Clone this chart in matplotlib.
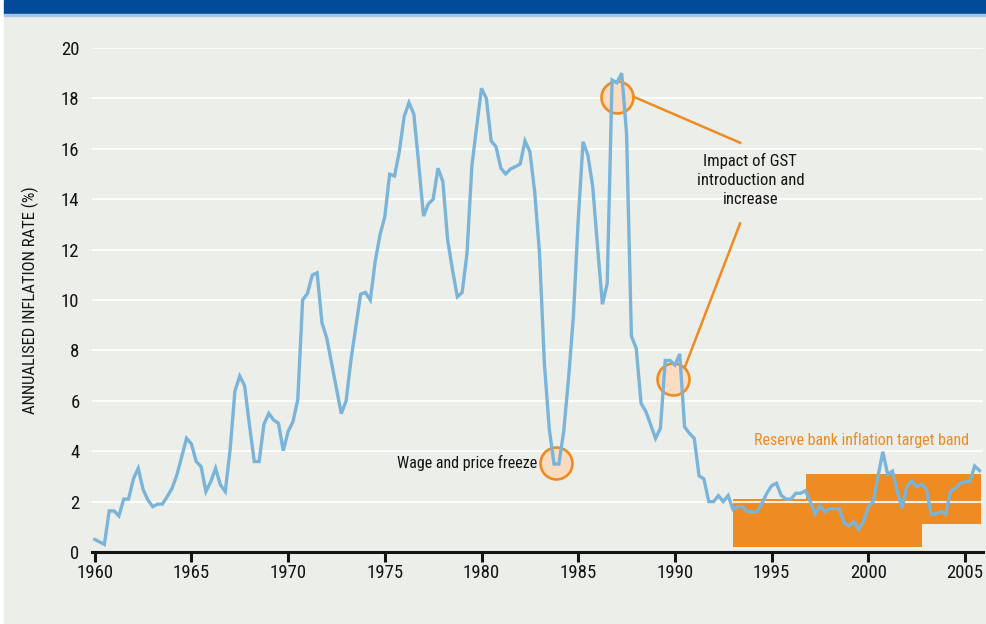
import matplotlib.pyplot as plt
from matplotlib.patches import Rectangle
import numpy as np

plt.rcParams['font.family'] = ['Roboto Condensed', 'DejaVu Sans Condensed',
                               'Roboto', 'DejaVu Sans']
plt.rcParams['font.stretch'] = 'condensed'

# Annualised CPI inflation (%), quarterly, 1960 Q1 - 2005 Q4
quarters = np.arange(1960, 2006, 0.25)
inflation = [
    0.50, 0.40, 0.30, 1.63,    # 1960
    1.63, 1.43, 2.10, 2.10,    # 1961
    2.90, 3.32, 2.49, 2.06,    # 1962
    1.80, 1.90, 1.90, 2.20,    # 1963
    2.53, 3.06, 3.78, 4.51,    # 1964
    4.29, 3.59, 3.39, 2.40,    # 1965
    2.79, 3.32, 2.66, 2.40,    # 1966
    4.05, 6.39, 6.98, 6.60,    # 1967
    5.04, 3.59, 3.59, 5.07,    # 1968
    5.50, 5.24, 5.11, 4.02,    # 1969
    4.78, 5.17, 6.05, 10.00,   # 1970
    10.26, 10.99, 11.08, 9.10,  # 1971
    8.48, 7.49, 6.50, 5.49,    # 1972
    6.00, 7.62, 8.94, 10.23,   # 1973
    10.30, 10.00, 11.52, 12.58,  # 1974
    13.31, 14.99, 14.92, 15.89,  # 1975
    17.28, 17.83, 17.38, 15.42,  # 1976
    13.33, 13.81, 14.00, 15.23,  # 1977
    14.70, 12.38, 11.19, 10.13,  # 1978
    10.30, 11.85, 15.30, 16.88,  # 1979
    18.40, 18.00, 16.31, 16.08,  # 1980
    15.23, 15.00, 15.20, 15.29,  # 1981
    15.40, 16.31, 15.89, 14.30,  # 1982
    11.85, 7.49, 4.91, 3.49,   # 1983
    3.49, 4.78, 6.89, 9.34,    # 1984
    13.17, 16.28, 15.75, 14.50,  # 1985
    12.12, 9.83, 10.66, 18.73,  # 1986
    18.62, 19.00, 16.60, 8.57,  # 1987
    8.08, 5.90, 5.57, 5.04,    # 1988
    4.51, 4.91, 7.60, 7.60,    # 1989
    7.42, 7.86, 4.97, 4.71,    # 1990
    4.51, 3.02, 2.90, 2.00,    # 1991
    2.00, 2.24, 2.00, 2.24,    # 1992
    1.69, 1.80, 1.80, 1.60,    # 1993
    1.60, 1.60, 1.93, 2.33,    # 1994
    2.63, 2.73, 2.24, 2.10,    # 1995
    2.10, 2.33, 2.33, 2.43,    # 1996
    2.00, 1.50, 1.83, 1.60,    # 1997
    1.72, 1.72, 1.72, 1.14,    # 1998
    1.03, 1.20, 0.90, 1.20,    # 1999
    1.80, 2.00, 2.99, 3.98,    # 2000
    3.08, 3.21, 2.39, 1.73,    # 2001
    2.62, 2.82, 2.59, 2.69,    # 2002
    2.50, 1.51, 1.51, 1.60,    # 2003
    1.51, 2.42, 2.53, 2.73,    # 2004
    2.79, 2.79, 3.41, 3.23,    # 2005
]

# Reserve Bank target band pieces
band_start = [1993.0, 1996.8]
band_end = [2002.8, 2005.85]
band_low = [0.2, 1.1]
band_high = [2.1, 3.1]

# highlighted episodes
circle_x = [1983.85, 1987.0, 1989.89]
circle_y = [3.52, 18.07, 6.85]

year_ticks = list(range(1960, 2006, 5))
rate_ticks = list(range(0, 21, 2))

BLUE = '#7ab4d9'
ORANGE = '#ee8b22'
PEACH = '#fcdcc0'
INK = '#141414'
PANEL = '#eceee9'

fig = plt.figure(figsize=(9.87, 6.24), dpi=100, facecolor='white')
W, H = 987.0, 624.0
fig.patches.append(Rectangle((4.5 / W, 0), 1, 1 - 16 / H, transform=fig.transFigure,
                             color=PANEL, zorder=-3))
fig.patches.append(Rectangle((4.5 / W, 1 - 14 / H), 1, 14 / H, transform=fig.transFigure,
                             color='#004c99', zorder=-2))
fig.patches.append(Rectangle((4.5 / W, 1 - 16 / H), 1, 2 / H, transform=fig.transFigure,
                             color='#a6c4e3', zorder=-2))

ax = fig.add_axes([92 / W, 72 / H, 891 / W, 504 / H])
ax.patch.set_visible(False)

# target band
for x0, x1, lo, hi in zip(band_start, band_end, band_low, band_high):
    ax.add_patch(Rectangle((x0, lo), x1 - x0, hi - lo, facecolor=ORANGE,
                           edgecolor='none', zorder=1))

# grid lines, drawn over the band
for r in rate_ticks[1:]:
    ax.axhline(r, color='white', lw=1.5, alpha=0.85, zorder=1.5)

ax.plot(circle_x, circle_y, 'o', ls='none', ms=23, mfc=PEACH, mec=ORANGE,
        mew=1.9, zorder=2, clip_on=False)
ax.plot(quarters, inflation, color=BLUE, lw=2.4, zorder=3, solid_joinstyle='miter')

# GST leader lines
ax.plot([1987.85, 1993.37], [18.07, 16.24], color=ORANGE, lw=1.8, zorder=2)
ax.plot([1993.37, 1990.52], [13.04, 7.35], color=ORANGE, lw=1.8, zorder=2)

ax.text(1993.9, 14.76, 'Impact of GST\nintroduction and\nincrease', ha='center',
        va='center', fontsize=12, color=INK, linespacing=1.3)
ax.text(1982.87, 3.53, 'Wage and price freeze', ha='right', va='center',
        fontsize=11.5, color=INK)
ax.text(1994.09, 4.44, 'Reserve bank inflation target band', ha='left',
        va='center', fontsize=11.5, color=ORANGE)

ax.set_xlim(1959.86, 2005.93)
ax.set_ylim(0, 20)
ax.set_xticks(year_ticks)
ax.set_yticks(rate_ticks)
for side in ['top', 'right', 'left']:
    ax.spines[side].set_visible(False)
ax.spines['bottom'].set_linewidth(2.2)
ax.spines['bottom'].set_color(INK)
ax.spines['bottom'].set_zorder(4)
ax.tick_params(axis='x', direction='out', length=7, width=2.2, color=INK,
               labelsize=13.5, labelcolor=INK, pad=2)
ax.tick_params(axis='y', length=0, labelsize=13.5, labelcolor=INK, pad=9)

fig.text(30 / W, 1 - 300 / H, 'ANNUALISED INFLATION RATE (%)', rotation=90,
         ha='center', va='center', fontsize=12, color=INK)

fig.savefig('out.png', dpi=100, facecolor=fig.get_facecolor())
